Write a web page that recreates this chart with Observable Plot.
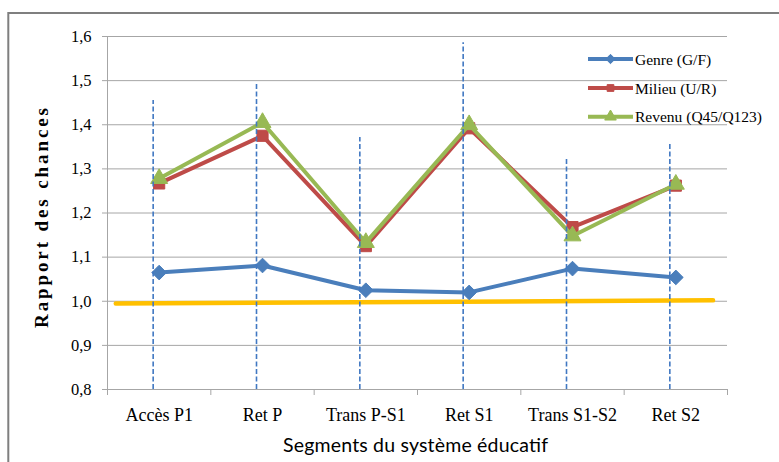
<!DOCTYPE html>
<html><head><meta charset="utf-8">
<script src="https://cdn.jsdelivr.net/npm/d3@7"></script>
<script src="https://cdn.jsdelivr.net/npm/@observablehq/plot@0.6"></script>
<style>
body{margin:0;background:#fff}
#chart{position:relative;width:779px;height:462px;overflow:hidden}
</style>
</head><body><div id="chart"></div>
<script>
const categories = ["Accès P1", "Ret P", "Trans P-S1", "Ret S1", "Trans S1-S2", "Ret S2"];
const seriesNames = ["Genre (G/F)", "Milieu (U/R)", "Revenu (Q45/Q123)"];
const genre  = [1.065, 1.081, 1.025, 1.020, 1.074, 1.054];
const milieu = [1.267, 1.375, 1.125, 1.392, 1.168, 1.262];
const revenu = [1.278, 1.405, 1.133, 1.400, 1.148, 1.265];
const dashTops = [1.455, 1.495, 1.371, 1.586, 1.323, 1.357];
const refLineX = [0.08, 5.86];
const refLineY = [0.995, 1.002];
const yTicks = [0.8, 0.9, 1.0, 1.1, 1.2, 1.3, 1.4, 1.5, 1.6];
const xTitle = "Segments du système éducatif";
const yTitle = "Rapport des chances";

const SERIF = '"Liberation Serif", "Times New Roman", "DejaVu Serif", serif';
const colors = ["#4A7EBB", "#BE4B48", "#98B954"];
const symbols = ["diamond2", "square", "triangle"];
const radii = [6.6, 6.3, 6.3];
const allSeries = [genre, milieu, revenu];

const xc = i => i + 0.5;
const seriesRows = allSeries.map((vals, s) => vals.map((v, i) => ({series: seriesNames[s], x: xc(i), y: v})));
const dashRows = dashTops.map((t, i) => ({x: xc(i), top: t}));
const refRows = refLineX.map((x, i) => ({x, y: refLineY[i]}));

const W = 779, H = 462;
const grid = "#a6a6a6";
const marks = [
  Plot.ruleY(yTicks.slice(1), {stroke: grid, strokeWidth: 1}),
  Plot.ruleY([0.8], {stroke: grid, strokeWidth: 1}),
  Plot.ruleX([0], {stroke: grid, strokeWidth: 1}),
  Plot.axisY({ticks: yTicks, tickSize: 5, tickPadding: 11, stroke: grid, fill: "#000",
    tickFormat: d => d.toFixed(1).replace(".", ","), fontSize: 16.5, fontFamily: SERIF, label: null}),
  Plot.axisX({ticks: d3.range(0, 7), tickSize: 6, stroke: grid, tickFormat: () => "", label: null}),
  Plot.axisX({ticks: categories.map((_, i) => xc(i)), tickSize: 0, tickPadding: 19, fill: "#000",
    tickFormat: d => categories[Math.round(d - 0.5)], fontSize: 18, fontFamily: SERIF, label: null}),
  Plot.line(refRows, {x: "x", y: "y", stroke: "#FFC000", strokeWidth: 4.5})
];
seriesRows.forEach((rows, s) => {
  marks.push(Plot.line(rows, {x: "x", y: "y", stroke: colors[s], strokeWidth: 4}));
  marks.push(Plot.dot(rows, {x: "x", y: "y", symbol: symbols[s], r: radii[s], fill: colors[s], stroke: colors[s], strokeWidth: 1}));
});
marks.push(Plot.ruleX(dashRows, {x: "x", y1: 0.8, y2: "top", stroke: "#4178C2", strokeWidth: 1.6, strokeDasharray: "5,2.5", dx: -6}));

const chart = Plot.plot({
  width: W, height: H,
  marginLeft: 107, marginRight: 52, marginTop: 36, marginBottom: 73,
  x: {type: "linear", domain: [0, 6], axis: null},
  y: {domain: [0.8, 1.6], axis: null},
  style: {fontFamily: SERIF, background: "#fff", overflow: "hidden"},
  marks
});
document.getElementById("chart").appendChild(chart);

const svg = d3.select(chart);
svg.append("rect").attr("x", 8.3).attr("y", 13).attr("width", 900).attr("height", 600)
  .attr("fill", "none").attr("stroke", "#7f7f7f").attr("stroke-width", 2);

svg.append("text")
  .attr("transform", "translate(47.5,218) rotate(-90)")
  .attr("text-anchor", "middle").style("font-family", SERIF).attr("font-weight", "bold")
  .attr("font-size", 19).attr("fill", "#000")
  .attr("textLength", 220).attr("lengthAdjust", "spacing").text(yTitle);

svg.append("text")
  .attr("x", 415.5).attr("y", 452).attr("text-anchor", "middle")
  .style("font-family", '"Lato", "Open Sans", sans-serif').attr("font-size", 19.5).attr("fill", "#000")
  .attr("textLength", 265).attr("lengthAdjust", "spacing").text(xTitle);

const leg = svg.append("g");
const legY = [59, 88, 116.7];
const legR = [4.2, 3.8, 4.3];
seriesNames.forEach((name, s) => {
  const y = legY[s];
  leg.append("line").attr("x1", 588).attr("x2", 633).attr("y1", y).attr("y2", y)
    .attr("stroke", colors[s]).attr("stroke-width", 4);
  const sym = {diamond2: d3.symbolDiamond2, square: d3.symbolSquare, triangle: d3.symbolTriangle}[symbols[s]];
  leg.append("path").attr("transform", `translate(610.5,${y})`)
    .attr("d", d3.symbol(sym, Math.PI * legR[s] * legR[s])())
    .attr("fill", colors[s]).attr("stroke", colors[s]);
  leg.append("text").attr("x", 635).attr("y", y + 5.5).attr("text-anchor", "start")
    .style("font-family", SERIF).attr("font-size", 15.5).attr("fill", "#000").text(name);
});
</script>
</body></html>
